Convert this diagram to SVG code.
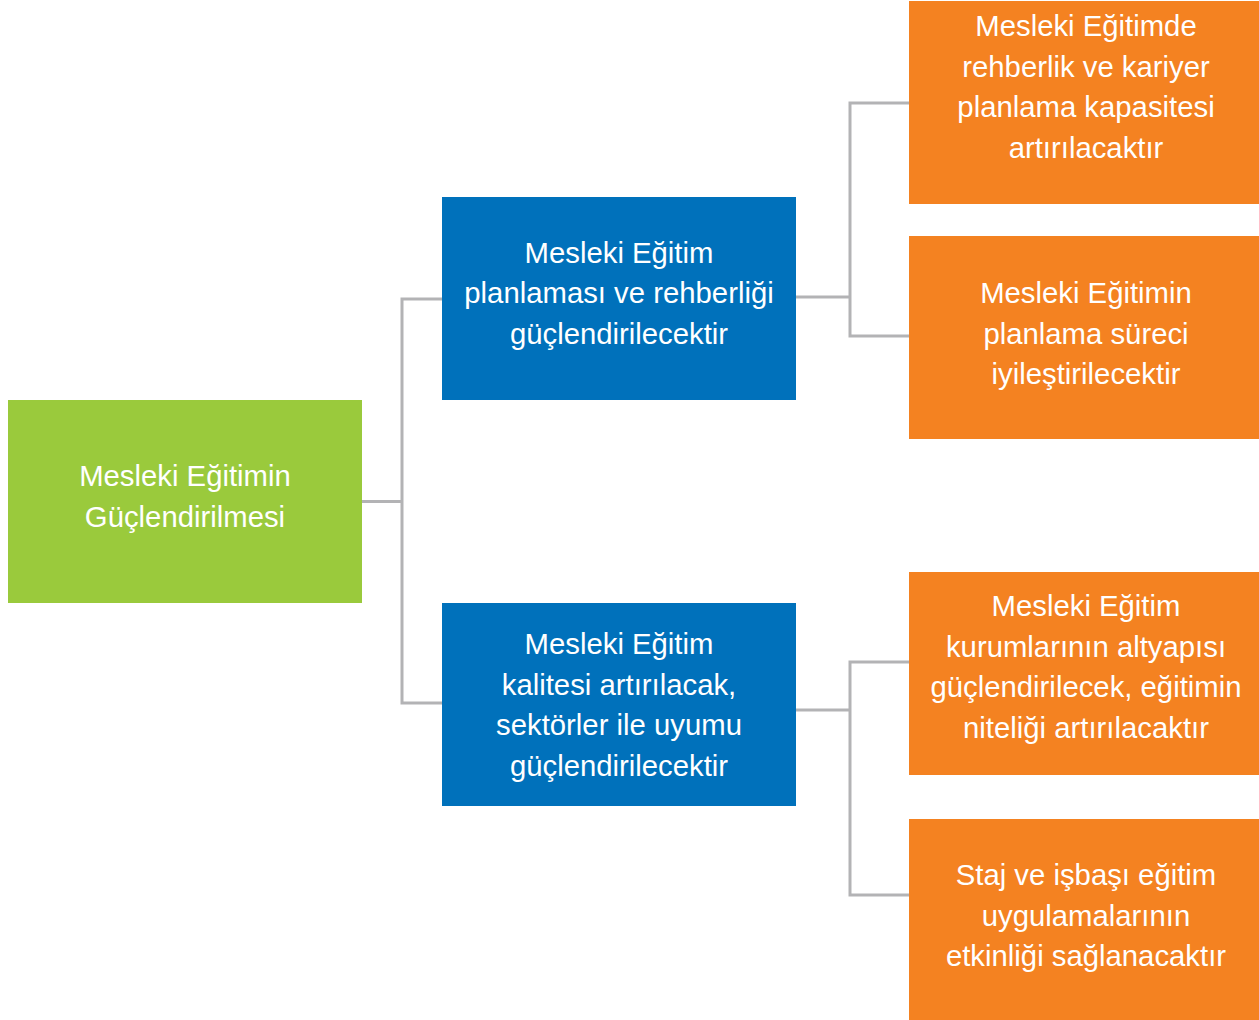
<svg xmlns="http://www.w3.org/2000/svg" width="1259" height="1020" viewBox="0 0 1259 1020">
<style>
.box{stroke:none}
.g{fill:#9aca3c}
.b{fill:#0071bb}
.o{fill:#f48221}
.t{font-family:"Liberation Sans",Arial,sans-serif;font-size:29.3px;fill:#ffffff;text-anchor:middle}
.c{fill:none;stroke:#b3b3b5;stroke-width:3}
</style>
<rect width="1259" height="1020" fill="#ffffff"/>
<g id="connectors">
<polyline class="c" points="362,501.5 402,501.5"/>
<polyline class="c" points="442,299 402,299 402,703 442,703"/>
<polyline class="c" points="796,297 850,297"/>
<polyline class="c" points="909,103 850,103 850,336 909,336"/>
<polyline class="c" points="796,710 850,710"/>
<polyline class="c" points="909,662 850,662 850,895 909,895"/>
</g>
<g id="root">
<rect class="box g" x="8" y="400" width="354" height="203"/>
<text class="t" x="185" y="486">Mesleki Eğitimin</text>
<text class="t" x="185" y="526.5">Güçlendirilmesi</text>
</g>
<g id="b1">
<rect class="box b" x="442" y="197" width="354" height="203"/>
<text class="t" x="619" y="262.5">Mesleki Eğitim</text>
<text class="t" x="619" y="303">planlaması ve rehberliği</text>
<text class="t" x="619" y="343.5">güçlendirilecektir</text>
</g>
<g id="b2">
<rect class="box b" x="442" y="603" width="354" height="203"/>
<text class="t" x="619" y="653.5">Mesleki Eğitim</text>
<text class="t" x="619" y="694.5">kalitesi artırılacak,</text>
<text class="t" x="619" y="734.5">sektörler ile uyumu</text>
<text class="t" x="619" y="775.5">güçlendirilecektir</text>
</g>
<g id="o1">
<rect class="box o" x="909" y="1" width="350" height="203"/>
<text class="t" x="1086" y="35.5">Mesleki Eğitimde</text>
<text class="t" x="1086" y="76.5">rehberlik ve kariyer</text>
<text class="t" x="1086" y="116.5">planlama kapasitesi</text>
<text class="t" x="1086" y="157.5">artırılacaktır</text>
</g>
<g id="o2">
<rect class="box o" x="909" y="236" width="350" height="203"/>
<text class="t" x="1086" y="302.5">Mesleki Eğitimin</text>
<text class="t" x="1086" y="343.5">planlama süreci</text>
<text class="t" x="1086" y="383.5">iyileştirilecektir</text>
</g>
<g id="o3">
<rect class="box o" x="909" y="572" width="350" height="203"/>
<text class="t" x="1086" y="615.5">Mesleki Eğitim</text>
<text class="t" x="1086" y="656.5">kurumlarının altyapısı</text>
<text class="t" x="1086" y="696.5">güçlendirilecek, eğitimin</text>
<text class="t" x="1086" y="737.5">niteliği artırılacaktır</text>
</g>
<g id="o4">
<rect class="box o" x="909" y="819" width="350" height="201"/>
<text class="t" x="1086" y="884.5">Staj ve işbaşı eğitim</text>
<text class="t" x="1086" y="925.5">uygulamalarının</text>
<text class="t" x="1086" y="965.5">etkinliği sağlanacaktır</text>
</g>
</svg>
